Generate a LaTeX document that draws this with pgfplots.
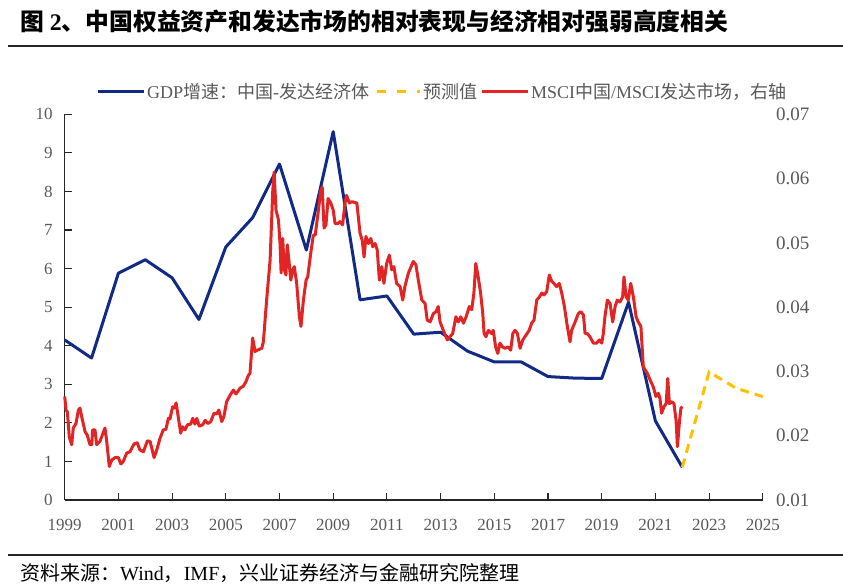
\documentclass[border=0pt]{standalone}
\usepackage{fontspec}
\setmainfont{Liberation Serif}
\newfontfamily\cjk{Noto Sans CJK SC}
\usepackage{pgfplots}
\pgfplotsset{compat=1.18}
\definecolor{gdpblue}{RGB}{16,42,134}
\definecolor{msred}{RGB}{226,36,36}
\definecolor{fcyellow}{RGB}{255,192,0}
\definecolor{lblgray}{RGB}{89,89,89}

\begin{document}
\begin{tikzpicture}[x=1pt,y=1pt]
\useasboundingbox (0,0) rectangle (843,588);
\node[anchor=west, inner sep=0pt, font=\fontsize{23.8}{23.8}\selectfont] at (20,567)
  {{\cjk\bfseries 图} {\bfseries 2}{\cjk\bfseries 、中国权益资产和发达市场的相对表现与经济相对强弱高度相关}};
\draw[line width=1.2pt, black!85] (8,542) -- (843,542);
\draw[line width=1.2pt, black!85] (8,33) -- (843,33);
\node[anchor=west, inner sep=0pt, font=\fontsize{20}{20}\selectfont] at (20,15)
  {{\cjk 资料来源：}Wind{\cjk ，}IMF{\cjk ，兴业证券经济与金融研究院整理}};

\begin{axis}[
  at={(64.7pt,88pt)}, anchor=south west,
  scale only axis, width=698.1pt, height=385.7pt,
  xmin=1999, xmax=2025, ymin=0, ymax=10,
  axis x line*=bottom, axis y line*=left,
  axis line style={line width=1.1pt, black!85, -},
  xtick={1999,2001,...,2025}, ytick={0,1,...,10},
  tick align=inside, major tick length=7pt,
  tick style={line width=1.1pt, black!85},
  /pgf/number format/assume math mode=true,
  /pgf/number format/1000 sep={},
  ticklabel style={text=lblgray},
  xticklabel style={font=\fontsize{17}{17}\selectfont, anchor=north, inner sep=0pt, yshift=-19pt},
  yticklabel style={font=\fontsize{17}{17}\selectfont, anchor=east, inner sep=0pt, xshift=-12pt},
  clip=false,
]
\addplot[gdpblue, line width=3pt, line join=round] coordinates {
(1999,4.15) (2000,3.68) (2001,5.88) (2002,6.23) (2003,5.76) (2004,4.68)
(2005,6.56) (2006,7.32) (2007,8.71) (2008,6.48) (2009,9.55) (2010,5.19)
(2011,5.29) (2012,4.30) (2013,4.35) (2014,3.86) (2015,3.58) (2016,3.58)
(2017,3.20) (2018,3.16) (2019,3.15) (2020,5.13) (2021,2.05) (2022,0.85)
};
\addplot[fcyellow, line width=3pt, dash pattern=on 9pt off 6pt] coordinates {
(2022,0.85) (2023,3.32) (2024,2.90) (2025,2.68)
};
\end{axis}

\begin{axis}[
  at={(64.7pt,88pt)}, anchor=south west,
  scale only axis, width=698.1pt, height=385.7pt,
  xmin=1999, xmax=2025, ymin=0.01, ymax=0.07,
  axis x line=none, axis y line*=right,
  y axis line style={draw=none},
  ytick={0.01,0.02,0.03,0.04,0.05,0.06,0.07},
  ytick style={draw=none},
  scaled y ticks=false,
  /pgf/number format/assume math mode=true,
  /pgf/number format/fixed, /pgf/number format/fixed zerofill, /pgf/number format/precision=2,
  yticklabel style={text=lblgray, font=\fontsize{19}{19}\selectfont, anchor=west, inner sep=0pt, xshift=13pt},
  legend columns=3,
  legend style={at={(0.0448,1.058)}, anchor=west, draw=none, fill=none,
    font=\fontsize{18}{18}\selectfont, text=lblgray, inner sep=0pt,
    /tikz/every even column/.append style={column sep=1pt}},
  legend image code/.code={\draw[#1] (0pt,0pt) -- (46pt,0pt);},
  clip=false,
]
\addlegendimage{gdpblue, line width=3pt}
\addlegendentry{GDP{\cjk 增速：中国}-{\cjk 发达经济体}}
\addlegendimage{fcyellow, line width=3pt, dash pattern=on 9pt off 11pt, dash phase=-3pt}
\addlegendentry{{\cjk 预测值}}
\addlegendimage{msred, line width=3pt}
\addlegendentry{MSCI{\cjk 中国}/MSCI{\cjk 发达市场，右轴}}
\addplot[msred, line width=3pt, line join=round, forget plot] table {
1999.00 0.0261
1999.05 0.0240
1999.10 0.0237
1999.17 0.0198
1999.26 0.0186
1999.32 0.0212
1999.42 0.0219
1999.51 0.0240
1999.57 0.0243
1999.63 0.0230
1999.76 0.0206
1999.84 0.0201
1999.94 0.0186
2000.01 0.0186
2000.04 0.0209
2000.13 0.0209
2000.19 0.0186
2000.31 0.0191
2000.50 0.0212
2000.56 0.0193
2000.66 0.0152
2000.75 0.0162
2000.87 0.0166
2001.00 0.0166
2001.09 0.0156
2001.18 0.0160
2001.31 0.0173
2001.43 0.0175
2001.58 0.0187
2001.70 0.0189
2001.80 0.0178
2001.93 0.0175
2002.08 0.0192
2002.18 0.0191
2002.33 0.0166
2002.43 0.0178
2002.55 0.0196
2002.67 0.0209
2002.77 0.0210
2002.86 0.0227
2002.92 0.0226
2003.02 0.0245
2003.08 0.0243
2003.15 0.0251
2003.19 0.0240
2003.32 0.0204
2003.39 0.0214
2003.48 0.0209
2003.57 0.0217
2003.69 0.0218
2003.77 0.0227
2003.85 0.0218
2003.92 0.0227
2004.01 0.0215
2004.14 0.0217
2004.23 0.0224
2004.33 0.0219
2004.44 0.0222
2004.56 0.0235
2004.66 0.0234
2004.74 0.0240
2004.85 0.0222
2004.93 0.0230
2005.03 0.0253
2005.16 0.0263
2005.28 0.0271
2005.38 0.0265
2005.53 0.0274
2005.65 0.0277
2005.75 0.0284
2005.84 0.0294
2005.90 0.0297
2006.00 0.0352
2006.09 0.0331
2006.17 0.0333
2006.34 0.0336
2006.40 0.0346
2006.52 0.0411
2006.65 0.0473
2006.75 0.0582
2006.80 0.0610
2006.87 0.0551
2006.96 0.0536
2007.02 0.0499
2007.06 0.0453
2007.12 0.0507
2007.18 0.0458
2007.24 0.0450
2007.29 0.0497
2007.35 0.0473
2007.42 0.0442
2007.49 0.0458
2007.55 0.0463
2007.64 0.0437
2007.74 0.0385
2007.80 0.0370
2007.89 0.0411
2007.99 0.0442
2008.05 0.0447
2008.17 0.0486
2008.26 0.0512
2008.33 0.0512
2008.45 0.0551
2008.53 0.0580
2008.59 0.0587
2008.66 0.0523
2008.73 0.0528
2008.81 0.0569
2008.91 0.0562
2009.00 0.0551
2009.07 0.0530
2009.17 0.0530
2009.25 0.0533
2009.35 0.0528
2009.44 0.0562
2009.50 0.0574
2009.60 0.0562
2009.69 0.0564
2009.88 0.0562
2010.00 0.0515
2010.08 0.0504
2010.15 0.0478
2010.22 0.0510
2010.31 0.0499
2010.40 0.0507
2010.47 0.0494
2010.56 0.0499
2010.64 0.0489
2010.72 0.0442
2010.81 0.0463
2010.89 0.0437
2010.99 0.0468
2011.09 0.0481
2011.18 0.0458
2011.26 0.0463
2011.36 0.0437
2011.49 0.0432
2011.59 0.0411
2011.67 0.0432
2011.80 0.0453
2011.98 0.0471
2012.08 0.0466
2012.17 0.0442
2012.30 0.0411
2012.42 0.0406
2012.50 0.0380
2012.61 0.0377
2012.73 0.0390
2012.83 0.0393
2012.91 0.0401
2012.98 0.0377
2013.10 0.0364
2013.25 0.0349
2013.35 0.0354
2013.45 0.0359
2013.57 0.0385
2013.66 0.0377
2013.75 0.0385
2013.85 0.0375
2013.95 0.0385
2014.07 0.0401
2014.16 0.0396
2014.24 0.0422
2014.31 0.0468
2014.40 0.0447
2014.49 0.0422
2014.57 0.0390
2014.62 0.0359
2014.69 0.0354
2014.78 0.0364
2014.90 0.0359
2014.96 0.0364
2015.05 0.0338
2015.13 0.0328
2015.21 0.0344
2015.31 0.0338
2015.40 0.0336
2015.52 0.0338
2015.61 0.0333
2015.69 0.0359
2015.77 0.0364
2015.86 0.0359
2015.96 0.0336
2016.06 0.0349
2016.14 0.0354
2016.30 0.0364
2016.39 0.0375
2016.48 0.0380
2016.58 0.0411
2016.68 0.0416
2016.77 0.0422
2016.85 0.0419
2016.95 0.0424
2017.05 0.0450
2017.14 0.0440
2017.22 0.0437
2017.32 0.0432
2017.42 0.0437
2017.51 0.0422
2017.61 0.0401
2017.72 0.0370
2017.82 0.0346
2017.88 0.0364
2018.01 0.0377
2018.13 0.0390
2018.22 0.0393
2018.32 0.0388
2018.38 0.0359
2018.46 0.0359
2018.56 0.0354
2018.69 0.0344
2018.81 0.0344
2018.91 0.0349
2019.00 0.0344
2019.06 0.0359
2019.12 0.0385
2019.21 0.0411
2019.31 0.0406
2019.41 0.0377
2019.50 0.0401
2019.58 0.0411
2019.68 0.0408
2019.78 0.0416
2019.83 0.0447
2019.91 0.0416
2019.99 0.0411
2020.08 0.0437
2020.18 0.0416
2020.28 0.0385
2020.36 0.0377
2020.46 0.0370
2020.55 0.0307
2020.70 0.0297
2020.80 0.0287
2020.92 0.0276
2021.02 0.0261
2021.11 0.0266
2021.17 0.0258
2021.23 0.0235
2021.32 0.0245
2021.40 0.0250
2021.46 0.0289
2021.52 0.0250
2021.61 0.0253
2021.69 0.0250
2021.77 0.0224
2021.82 0.0183
2021.89 0.0219
2021.95 0.0243
2022.01 0.0245
};
\end{axis}
\end{tikzpicture}
\end{document}
